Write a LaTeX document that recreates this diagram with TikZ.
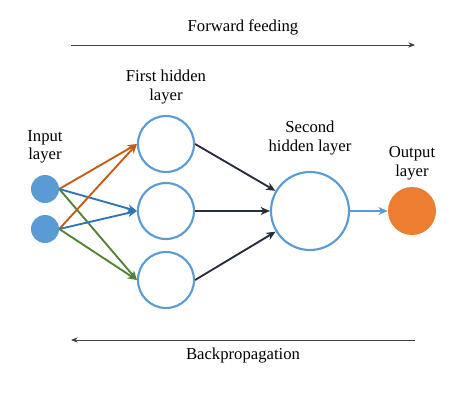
\documentclass[tikz,border=0pt]{standalone}
\usepackage{fontspec}
\setmainfont{Liberation Serif}
\usetikzlibrary{positioning,arrows.meta}

\definecolor{nnblue}{RGB}{91,155,213}
\definecolor{nnorange}{RGB}{237,125,49}
\definecolor{arrorange}{RGB}{197,90,17}
\definecolor{arrblue}{RGB}{46,117,182}
\definecolor{arrgreen}{RGB}{84,130,53}
\definecolor{arrdark}{RGB}{38,45,60}

\begin{document}
\begin{tikzpicture}[x=0.75pt,y=-0.75pt,
  lb/.style={font=\fontsize{12.5}{14}\selectfont,align=center},
  inp/.style={circle,fill=nnblue,minimum size=21pt,inner sep=0pt},
  hid/.style={circle,draw=nnblue,line width=1.6pt,inner sep=0pt},
  outp/.style={circle,fill=nnorange,minimum size=36pt,inner sep=0pt},
  conn/.style={line width=1.4pt,-{Stealth[length=7pt,width=6pt]}},
  dir/.style={draw=black!75,line width=0.6pt,-{Stealth[length=5pt,width=4pt]}}]
\useasboundingbox (0,0) rectangle (474,407);
% nodes
\node[inp] (in1) at (45,189) {};
\node[inp] (in2) at (45,229) {};
\foreach \n/\y in {1/144,2/211,3/280}
  \node[hid,minimum size=42pt] (h\n) at (166,\y) {};
\node[hid,minimum size=58.5pt] (s) at (310,211) {};
\node[outp] (out) at (412,211) {};
% labels
\node[lb] at (45,147) {Input\\layer};
\node[lb] at (166,87) {First hidden\\layer};
\node[lb] at (310,138) {Second\\hidden layer};
\node[lb] at (412,163) {Output\\layer};
% input to first hidden
\foreach \i in {1,2}{
  \draw[conn,arrorange] (in\i.east) -- (h1.west);
  \draw[conn,arrblue] (in\i.east) -- (h2.west);
  \draw[conn,arrgreen] (in\i.east) -- (h3.west);
}
% first hidden to second hidden
\foreach \n in {1,2,3}
  \draw[conn,arrdark] (h\n.east) -- (s);
\draw[conn,nnblue] (s.east) -- (out.west);
% directions
\coordinate (fwl) at (71,45);
\coordinate (fwr) at (415,45);
\coordinate (bkl) at (71,340);
\coordinate (bkr) at (415,340);
\draw[dir] (fwl) -- (fwr);
\draw[dir] (bkr) -- (bkl);
\node[lb] at (243,27) {Forward feeding};
\node[lb] at (243,356) {Backpropagation};
\end{tikzpicture}
\end{document}
